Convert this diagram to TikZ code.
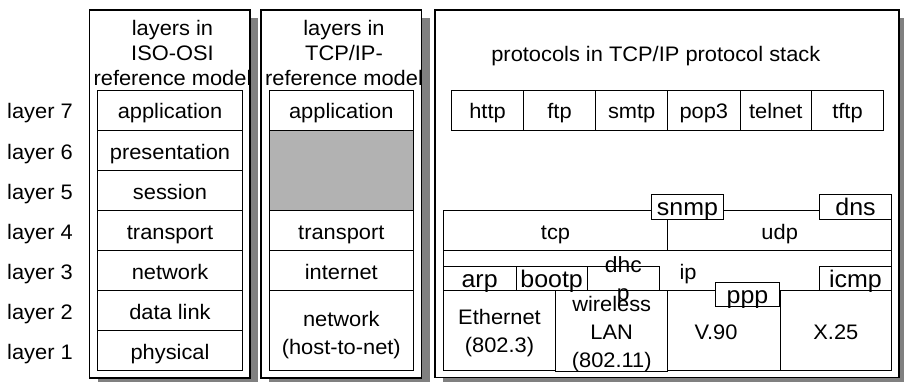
\documentclass[tikz,border=0pt]{standalone}
\usepackage{fontspec}
\setmainfont{Liberation Sans}[FakeStretch=1.04]
\usetikzlibrary{shadows}
\newcommand\lblfont{\fontsize{21}{28}\selectfont}
\newcommand\smallboxfont{\fontsize{24}{28}\selectfont}
\tikzset{
  outerbox/.style={draw, line width=1.8pt, fill=white, inner sep=0pt,
    general shadow={fill=black!50, shadow xshift=8pt, shadow yshift=-8pt}},
  cell/.style={draw, line width=0.9pt, fill=white, inner sep=0pt, font=\lblfont,
    text height=18pt, text depth=0pt},
  smallcell/.style={cell, font=\smallboxfont},
  greycell/.style={cell, fill=black!30},
  txt/.style={font=\lblfont, inner sep=0pt, anchor=base},
  layerlbl/.style={font=\lblfont, inner sep=0pt, text height=18pt, text depth=0pt},
}
\newcommand\cellat[7]{\node[#1, minimum width={(#5-#3)*1pt}, minimum height={(#6-#4)*1pt}] (#2) at ({(#3+#5)/2},{(#4+#6)/2}) {#7};}
\begin{document}
\begin{tikzpicture}[x=1pt,y=-1pt]
\fill[white] (0,0) rectangle (904,382);
\useasboundingbox (0,0) rectangle (904,382);

% outer boxes
\cellat{outerbox}{boxA}{89.5}{10}{250}{378}{}
\cellat{outerbox}{boxB}{261}{10}{421.5}{378}{}
\cellat{outerbox}{boxC}{435}{10}{899}{377.5}{}

% layer labels
\node[layerlbl] (L7) at (40,110) {layer 7};
\node[layerlbl] (L6) at (40,150.25) {layer 6};
\node[layerlbl] (L5) at (40,190.5) {layer 5};
\node[layerlbl] (L4) at (40,230.5) {layer 4};
\node[layerlbl] (L3) at (40,270.5) {layer 3};
\node[layerlbl] (L2) at (40,310.5) {layer 2};
\node[layerlbl] (L1) at (40,350.25) {layer 1};

% titles
\node[txt] (tA1) at (172.5,36) {layers in};
\node[txt] (tA2) at (172.5,61) {ISO-OSI};
\node[txt] (tA3) at (172.5,86) {reference model};
\node[txt] (tB1) at (344,36) {layers in};
\node[txt] (tB2) at (344,61) {TCP/IP-};
\node[txt] (tB3) at (344,86) {reference model};
\node[txt] (tC) at (655.8,61.7) {protocols in TCP/IP protocol stack};

% ISO-OSI column
\cellat{cell}{appA}{97.7}{90}{242.3}{130}{application}
\cellat{cell}{pres}{97.7}{130}{242.3}{170.5}{presentation}
\cellat{cell}{sess}{97.7}{170.5}{242.3}{210.5}{session}
\cellat{cell}{transA}{97.7}{210.5}{242.3}{250.5}{transport}
\cellat{cell}{netA}{97.7}{250.5}{242.3}{290.5}{network}
\cellat{cell}{dlink}{97.7}{290.5}{242.3}{330.5}{data link}
\cellat{cell}{phys}{97.7}{330.5}{242.3}{370}{physical}

% TCP/IP column
\cellat{cell}{appB}{269.3}{90}{413.3}{130}{application}
\cellat{greycell}{greyB}{269.3}{130}{413.3}{210.5}{}
\cellat{cell}{transB}{269.3}{210.5}{413.3}{250.5}{transport}
\cellat{cell}{inet}{269.3}{250.5}{413.3}{290.5}{internet}
\cellat{cell}{hostnet}{269.3}{290.5}{413.3}{370}{}
\node[txt] (hn1) at (341.3,326.7) {network};
\node[txt] (hn2) at (341.3,354.3) {(host-to-net)};

% application protocols
\cellat{cell}{http}{451.7}{90}{523.3}{130}{http}
\cellat{cell}{ftp}{523.3}{90}{595.7}{130}{ftp}
\cellat{cell}{smtp}{595.7}{90}{667.7}{130}{smtp}
\cellat{cell}{pop}{667.7}{90}{740}{130}{pop3}
\cellat{cell}{telnet}{740}{90}{811.7}{130}{telnet}
\cellat{cell}{tftp}{811.7}{90}{883.3}{130}{tftp}

% transport
\cellat{cell}{tcp}{443.3}{210.5}{667.7}{250.5}{tcp}
\cellat{cell}{udp}{667.7}{210.5}{891.7}{250.5}{udp}
\cellat{smallcell}{snmp}{651.7}{194.7}{723.3}{219}{snmp}
\cellat{smallcell}{dns}{819.3}{194.7}{891.7}{219}{dns}

% internet
\cellat{cell}{iprow}{443.3}{250.5}{891.7}{290.5}{}
\node[txt] (ip) at (688,279.3) {ip};

% network access
\cellat{cell}{eth}{443.3}{290.5}{555.7}{370}{}
\cellat{cell}{wlan}{555.7}{290.5}{667.7}{371.5}{}
\cellat{cell}{v90}{667.7}{290.5}{780}{370}{}
\cellat{cell}{x25}{780}{290.5}{891.7}{370}{X.25}
\node[txt] (eth1) at (499.5,324.3) {Ethernet};
\node[txt] (eth2) at (499.5,352) {(802.3)};
\node[txt] (wl1) at (611.7,311.5) {wireless};
\node[txt] (wl2) at (611.7,339.5) {LAN};
\node[txt] (wl3) at (611.7,367.5) {(802.11)};
\node[txt] (v90t) at (716,339.3) {V.90};

% small boxes in internet row
\cellat{smallcell}{arp}{443.3}{266.7}{516}{290.5}{arp}
\cellat{smallcell}{bootp}{516}{266.7}{587.3}{290.5}{bootp}
\cellat{cell}{dhcp}{587.3}{266.7}{659.3}{290.5}{}
\cellat{smallcell}{icmp}{819.3}{266.7}{891.7}{290.5}{icmp}
\cellat{smallcell}{ppp}{715.7}{282.7}{779.3}{306.7}{ppp}
\node[txt, font=\fontsize{22}{28}\selectfont] (dhc1) at (623.3,272.7) {dhc};
\node[txt, font=\fontsize{22}{28}\selectfont] (dhc2) at (623.3,300) {p};
\end{tikzpicture}
\end{document}
